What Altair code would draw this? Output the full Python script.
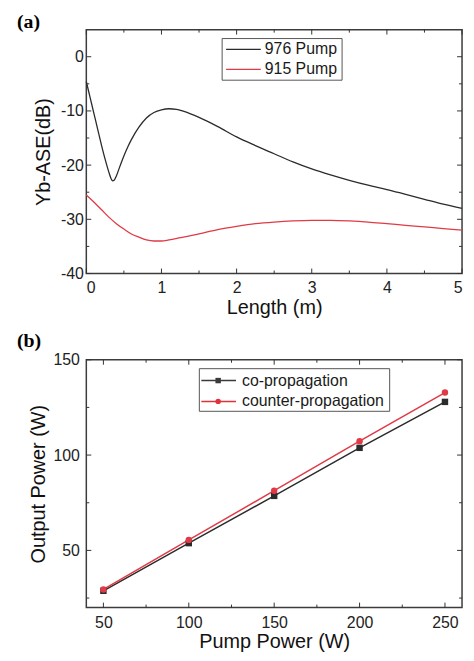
import altair as alt
import pandas as pd

# ---------------- Panel (a) data ----------------
series_a = ["976 Pump", "915 Pump"]
colors_a = ["#2b2b2b", "#e03a46"]
len_976 = [0.0, 0.05, 0.1, 0.15, 0.2, 0.25, 0.3, 0.33, 0.35, 0.37, 0.4, 0.45, 0.5, 0.55,
           0.6, 0.7, 0.8, 0.9, 1.0, 1.1, 1.2, 1.3, 1.5, 1.75, 2.0, 2.25, 2.5, 2.75, 3.0,
           3.25, 3.5, 3.75, 4.0, 4.25, 4.5, 4.75, 5.0]
ase_976 = [-4.6, -7.5, -10.4, -13.3, -16.2, -18.9, -21.3, -22.5, -22.9, -22.8, -22.0,
           -20.1, -18.3, -16.7, -15.3, -13.0, -11.3, -10.3, -9.8, -9.6, -9.7, -10.1,
           -11.2, -12.9, -14.8, -16.4, -17.9, -19.4, -20.7, -21.8, -22.8, -23.7, -24.5,
           -25.4, -26.3, -27.2, -28.0]
len_915 = [0.0, 0.1, 0.2, 0.3, 0.4, 0.5, 0.6, 0.7, 0.8, 0.9, 1.0, 1.1, 1.25, 1.5,
           1.75, 2.0, 2.25, 2.5, 2.75, 3.0, 3.25, 3.5, 3.75, 4.0, 4.25, 4.5, 4.75, 5.0]
ase_915 = [-25.5, -26.8, -28.2, -29.6, -30.8, -31.8, -32.7, -33.3, -33.8, -34.0,
           -34.0, -33.8, -33.4, -32.7, -31.9, -31.3, -30.8, -30.5, -30.3, -30.2,
           -30.2, -30.3, -30.5, -30.8, -31.1, -31.4, -31.7, -32.0]
xa_major = [0, 1, 2, 3, 4, 5]
xa_minor = [0.5, 1.5, 2.5, 3.5, 4.5]
ya_major = [0, -10, -20, -30, -40]
ya_minor = [-5, -15, -25, -35]

# ---------------- Panel (b) data ----------------
series_b = ["co-propagation", "counter-propagation"]
colors_b = ["#3a3a3a", "#e0323c"]
shapes_b = ["square", "circle"]
pump = [50, 100, 150, 200, 250]
co_prop = [28.8, 53.8, 78.6, 103.8, 127.9]
counter_prop = [29.5, 55.5, 81.3, 107.3, 132.8]
xb_major = [50, 100, 150, 200, 250]
xb_minor = [75, 125, 175, 225]
yb_major = [50, 100, 150]
yb_minor = [25, 75, 125]

W = 379
HA = 246
HB = 250
SANS = "Liberation Sans"
TICK_COLOR = "#333333"


def frame_ticks(xf, yf, xs, ys, xax, yax, xt, yt, xmaj, xmin, ymaj, ymin, H):
    layers = []
    for vals, ln in ((xmaj, 5), (xmin, 3)):
        d = pd.DataFrame({xf: vals})
        base = alt.Chart(d).mark_rule(color=TICK_COLOR, strokeWidth=1)
        layers.append(base.encode(x=alt.X(f"{xf}:Q", scale=xs, axis=xax, title=xt),
                                  y=alt.value(0), y2=alt.value(ln)))
        layers.append(base.encode(x=alt.X(f"{xf}:Q", scale=xs, axis=xax, title=xt),
                                  y=alt.value(H - ln), y2=alt.value(H)))
    for vals, ln in ((ymaj, 5), (ymin, 3)):
        d = pd.DataFrame({yf: vals})
        base = alt.Chart(d).mark_rule(color=TICK_COLOR, strokeWidth=1)
        layers.append(base.encode(y=alt.Y(f"{yf}:Q", scale=ys, axis=yax, title=yt),
                                  x=alt.value(0), x2=alt.value(ln)))
        layers.append(base.encode(y=alt.Y(f"{yf}:Q", scale=ys, axis=yax, title=yt),
                                  x=alt.value(W - ln), x2=alt.value(W)))
    return layers


def panel_label(txt, dy):
    return alt.Chart(pd.DataFrame({"t": [txt]})).mark_text(
        align="left", baseline="top", font="Liberation Serif", fontWeight="bold",
        fontSize=20, color="black").encode(x=alt.value(-70), y=alt.value(dy), text="t:N")


def legend_box(x1, x2, y1, y2):
    return alt.Chart(pd.DataFrame({"k": [0]})).mark_rect(
        fill="white", stroke="#555555", strokeWidth=1).encode(
        x=alt.value(x1), x2=alt.value(x2), y=alt.value(y1), y2=alt.value(y2))


def legend_text(name, x, y):
    return alt.Chart(pd.DataFrame({"t": [name]})).mark_text(
        align="left", baseline="middle", font=SANS, fontSize=16, color="#1a1a1a").encode(
        x=alt.value(x), y=alt.value(y), text="t:N")


def legend_line(color, x1, x2, y, w):
    return alt.Chart(pd.DataFrame({"k": [0]})).mark_rule(color=color, strokeWidth=w).encode(
        x=alt.value(x1), x2=alt.value(x2), y=alt.value(y))


def legend_marker(color, shape, x, y):
    return alt.Chart(pd.DataFrame({"k": [0]})).mark_point(
        filled=True, size=30, opacity=1, color=color, shape=shape).encode(
        x=alt.value(x), y=alt.value(y))


# ---------------- Panel (a) ----------------
xs_a = alt.Scale(domain=[0, 5], nice=False, zero=False)
ys_a = alt.Scale(domain=[-40, 5], nice=False, zero=False)
xax_a = alt.Axis(values=xa_major, labelExpr="'' + datum.value", labelPadding=6,
                 titleX=W / 2, titleY=40, titleBaseline="alphabetic", titleAngle=0)
yax_a = alt.Axis(values=ya_major, labelExpr="'' + datum.value", labelPadding=3,
                 titleX=-37, titleY=HA / 2, titleBaseline="alphabetic",
                 titleAngle=270, titleAlign="center")
xt_a = "Length (m)"
yt_a = "Yb-ASE(dB)"

df_a = pd.concat([
    pd.DataFrame({"len": len_976, "ase": ase_976, "series": series_a[0]}),
    pd.DataFrame({"len": len_915, "ase": ase_915, "series": series_a[1]}),
])

lines_a = alt.Chart(df_a).mark_line(strokeWidth=1.3, interpolate="monotone").encode(
    x=alt.X("len:Q", scale=xs_a, axis=xax_a, title=xt_a),
    y=alt.Y("ase:Q", scale=ys_a, axis=yax_a, title=yt_a),
    color=alt.Color("series:N", scale=alt.Scale(domain=series_a, range=colors_a), legend=None),
)

leg_a = [
    legend_box(137, 258, 9, 51),
    legend_line(colors_a[0], 141, 176, 20, 1.3),
    legend_line(colors_a[1], 141, 176, 40, 1.3),
    legend_text(series_a[0], 180, 20),
    legend_text(series_a[1], 180, 40),
]

chart_a = alt.layer(
    lines_a,
    *frame_ticks("len", "ase", xs_a, ys_a, xax_a, yax_a, xt_a, yt_a,
                 xa_major, xa_minor, ya_major, ya_minor, HA),
    *leg_a, panel_label("(a)", -18)
).properties(width=W, height=HA)

# ---------------- Panel (b) ----------------
xs_b = alt.Scale(domain=[40, 260], nice=False, zero=False)
ys_b = alt.Scale(domain=[20, 150], nice=False, zero=False)
xax_b = alt.Axis(values=xb_major, labelPadding=7,
                 titleX=W / 2, titleY=40, titleBaseline="alphabetic", titleAngle=0)
yax_b = alt.Axis(values=yb_major, labelPadding=7,
                 titleX=-42, titleY=HB / 2, titleBaseline="alphabetic",
                 titleAngle=270, titleAlign="center")
xt_b = "Pump Power (W)"
yt_b = "Output Power (W)"

df_b = pd.concat([
    pd.DataFrame({"pump": pump, "out": co_prop, "series": series_b[0]}),
    pd.DataFrame({"pump": pump, "out": counter_prop, "series": series_b[1]}),
])

lines_b = alt.Chart(df_b).mark_line(strokeWidth=1.5).encode(
    x=alt.X("pump:Q", scale=xs_b, axis=xax_b, title=xt_b),
    y=alt.Y("out:Q", scale=ys_b, axis=yax_b, title=yt_b),
    color=alt.Color("series:N", scale=alt.Scale(domain=series_b, range=colors_b), legend=None),
)
pts_b = alt.Chart(df_b).mark_point(filled=True, size=42, opacity=1).encode(
    x=alt.X("pump:Q", scale=xs_b, axis=xax_b, title=xt_b),
    y=alt.Y("out:Q", scale=ys_b, axis=yax_b, title=yt_b),
    color=alt.Color("series:N", scale=alt.Scale(domain=series_b, range=colors_b), legend=None),
    shape=alt.Shape("series:N", scale=alt.Scale(domain=series_b, range=shapes_b), legend=None),
)

leg_b = [
    legend_box(114, 306, 9, 52),
    legend_line(colors_b[0], 116, 151, 21, 1.5),
    legend_line(colors_b[1], 116, 151, 42, 1.5),
    legend_marker(colors_b[0], shapes_b[0], 133, 21),
    legend_marker(colors_b[1], shapes_b[1], 133, 42),
    legend_text(series_b[0], 157, 21),
    legend_text(series_b[1], 157, 42),
]

chart_b = alt.layer(
    lines_b, pts_b,
    *frame_ticks("pump", "out", xs_b, ys_b, xax_b, yax_b, xt_b, yt_b,
                 xb_major, xb_minor, yb_major, yb_minor, HB),
    *leg_b, panel_label("(b)", -29)
).properties(width=W, height=HB)

chart = alt.vconcat(chart_a, chart_b, spacing=12).properties(
    padding={"left": 8, "top": 0, "right": 0, "bottom": 0}
).configure_view(
    stroke="#3c3c3c", strokeWidth=1.5
).configure_axis(
    domain=False, ticks=False, tickSize=0, grid=False,
    labelFont=SANS, labelFontSize=16, labelColor="#222222",
    titleFont=SANS, titleFontSize=20, titleFontWeight="normal", titleColor="#111111",
)

chart.save("out.html", embed_options={"renderer": "svg", "actions": False})
